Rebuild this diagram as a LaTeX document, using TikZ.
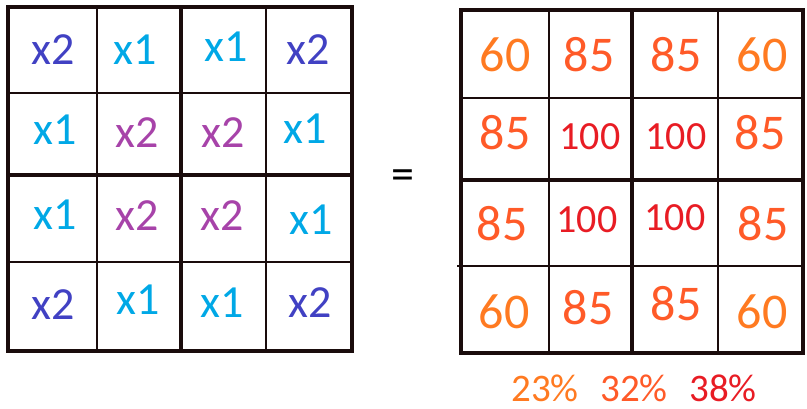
\documentclass[tikz,border=0pt]{standalone}
\usepackage{fontspec}
\setmainfont{Carlito}
\usepackage{xcolor}
\usepackage{tikz}
\usetikzlibrary{positioning}
\definecolor{inkline}{HTML}{1A0C0C}
\definecolor{xblue}{HTML}{4141C3}
\definecolor{xcyan}{HTML}{00A8E6}
\definecolor{xpurple}{HTML}{A743A9}
\definecolor{sixty}{HTML}{FF7A21}
\definecolor{eightyfive}{HTML}{FF5A28}
\definecolor{hundred}{HTML}{E81C24}
\tikzset{
  thinrule/.style={draw=inkline, line width=1.8pt},
  thickrule/.style={draw=inkline, line width=4.5pt, line cap=rect},
  factor/.style={inner sep=0pt, font=\fontsize{46}{46}\selectfont},
  weight/.style={inner sep=0pt, font=\fontsize{50}{50}\selectfont},
  smallweight/.style={inner sep=0pt, font=\fontsize{40}{40}\selectfont},
  share/.style={inner sep=0pt, font=\fontsize{39}{39}\selectfont}
}
\begin{document}
\begin{tikzpicture}[x=1pt, y=-1pt]
  \useasboundingbox (0,0) rectangle (807,408);
  % left grid
  \draw[thinrule] (97,7) -- (97,351);
  \draw[thinrule] (266,7) -- (266,351);
  \draw[thinrule] (8,93) -- (352,93);
  \draw[thinrule] (6,262) -- (352,262);
  \draw[thickrule] (181,7) -- (181,351);
  \draw[thickrule] (8,175) -- (352,175);
  \draw[thickrule] (8,7) rectangle (352,351);
  \node[factor, text=xblue] (l11) at (53,50) {x2};
  \node[factor, text=xcyan] (l12) at (135,50) {x1};
  \node[factor, text=xcyan] (l13) at (226,47) {x1};
  \node[factor, text=xblue] (l14) at (308,50) {x2};
  \node[factor, text=xcyan] (l21) at (55,130) {x1};
  \node[factor, text=xpurple] (l22) at (137,133) {x2};
  \node[factor, text=xpurple] (l23) at (223,133) {x2};
  \node[factor, text=xcyan] (l24) at (305,129) {x1};
  \node[factor, text=xcyan] (l31) at (55,215) {x1};
  \node[factor, text=xpurple] (l32) at (137,216) {x2};
  \node[factor, text=xpurple] (l33) at (222,216) {x2};
  \node[factor, text=xcyan] (l34) at (311,220) {x1};
  \node[factor, text=xblue] (l41) at (53,305) {x2};
  \node[factor, text=xcyan] (l42) at (138,300) {x1};
  \node[factor, text=xcyan] (l43) at (222,303) {x1};
  \node[factor, text=xblue] (l44) at (310,303) {x2};
  % equals
  \node[factor] (eq) at (403,180) {=};
  % right grid
  \draw[thinrule] (549,10) -- (549,353);
  \draw[thinrule] (718,10) -- (718,353);
  \draw[thinrule] (461,98) -- (803,98);
  \draw[thinrule] (457,266) -- (803,266);
  \draw[thickrule] (632,10) -- (632,353);
  \draw[thickrule] (461,180) -- (803,180);
  \draw[thickrule] (461,10) rectangle (803,353);
  \node[weight, text=sixty] (r11) at (505,55) {60};
  \node[weight, text=eightyfive] (r12) at (589,55) {85};
  \node[weight, text=eightyfive] (r13) at (676,55) {85};
  \node[weight, text=sixty] (r14) at (762,55) {60};
  \node[weight, text=eightyfive] (r21) at (505,133) {85};
  \node[smallweight, text=hundred] (r22) at (590,137) {100};
  \node[smallweight, text=hundred] (r23) at (676,137) {100};
  \node[weight, text=eightyfive] (r24) at (760,133) {85};
  \node[weight, text=eightyfive] (r31) at (502,224) {85};
  \node[smallweight, text=hundred] (r32) at (587,220) {100};
  \node[smallweight, text=hundred] (r33) at (675,218) {100};
  \node[weight, text=eightyfive] (r34) at (763,224) {85};
  \node[weight, text=sixty] (r41) at (504,312) {60};
  \node[weight, text=eightyfive] (r42) at (588,308) {85};
  \node[weight, text=eightyfive] (r43) at (676,304) {85};
  \node[weight, text=sixty] (r44) at (762,312) {60};
  % shares
  \node[share, text=sixty] (p23) at (545,388) {23\%};
  \node[share, text=eightyfive] (p32) at (634,388) {32\%};
  \node[share, text=hundred] (p38) at (723,388) {38\%};
\end{tikzpicture}
\end{document}
